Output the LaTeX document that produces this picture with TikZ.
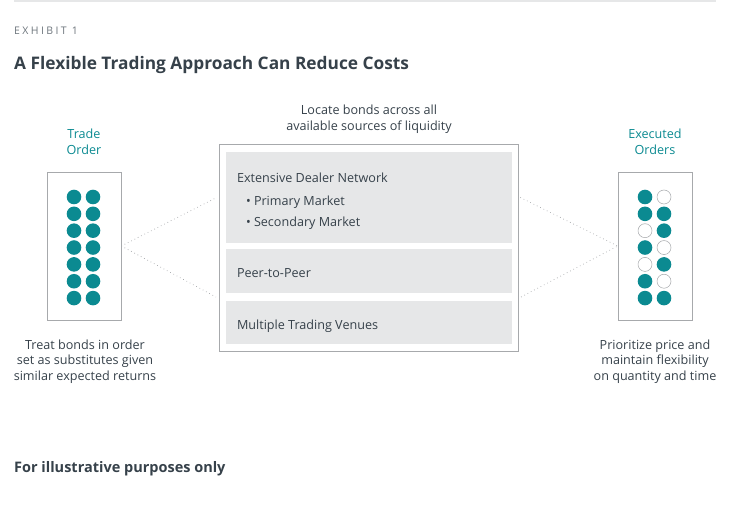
\documentclass[tikz,border=0pt]{standalone}
\usepackage{fontspec}
\setmainfont{Open Sans}
\newfontfamily\spacedfont[LetterSpace=23]{Open Sans}
\usetikzlibrary{positioning,calc}
\definecolor{exteal}{HTML}{0B8A91}
\definecolor{exink}{HTML}{36414A}
\definecolor{exgrey}{HTML}{6E767D}
\definecolor{expanel}{HTML}{E6E7E8}
\definecolor{exline}{HTML}{A7A9AC}

\begin{document}
\begin{tikzpicture}[
  x=1pt,y=-1pt,
  rule/.style={draw=expanel,line width=1.2pt},
  exhibit/.style={anchor=west,inner sep=0pt,font=\fontsize{10.5}{13}\spacedfont\color{exgrey}},
  headline/.style={anchor=west,inner sep=0pt,font=\fontsize{17.3}{20}\bfseries\color{exink}},
  note/.style={align=center,inner sep=0pt,font=\fontsize{12.6}{15.5}\selectfont\color{exink}},
  tlbl/.style={align=center,inner sep=0pt,font=\fontsize{12.6}{15.5}\selectfont\color{exteal}},
  orderbox/.style={draw=exline,line width=0.6pt,minimum width=74pt,minimum height=148pt},
  srcbox/.style={draw=exline,line width=0.6pt,minimum width=299pt,minimum height=207pt},
  panel/.style={fill=expanel,minimum width=286pt},
  ptext/.style={anchor=west,align=left,inner sep=0pt,font=\fontsize{12.6}{15.5}\selectfont\color{exink}},
  bond/.style={circle,fill=exteal,minimum size=14.6pt,inner sep=0pt},
  nobond/.style={circle,draw=exline,line width=0.5pt,fill=white,minimum size=14pt,inner sep=0pt},
  link/.style={draw=exline,line width=0.7pt,dash pattern=on 0.7pt off 3pt}
]
\useasboundingbox (0,0) rectangle (750,510);

% heading
\draw[rule] (14,1) -- (716,1);
\node[exhibit] (exh) at (14,31) {EXHIBIT 1};
\node[headline] (ttl) at (14,65) {A Flexible Trading Approach Can Reduce Costs};

% trade order
\node[tlbl] (tradelbl) at (84,142) {Trade\\Order};
\node[orderbox] (trade) at (84,246) {};
\foreach \r in {0,...,6} {
  \node[bond] (ta\r) at (74,197+16.85*\r) {};
  \node[bond] (tb\r) at (93,197+16.85*\r) {};
}
\node[note] (tradenote) at (85,361.5) {Treat bonds in order\\set as substitutes given\\similar expected returns};

% sources of liquidity
\node[note] (srclbl) at (369,119) {Locate bonds across all\\available sources of liquidity};
\node[srcbox] (src) at (368.5,247.5) {};
\node[panel,minimum height=91pt] (dealer) at (369,197.5) {};
\node[panel,minimum height=44pt] (peer) at (369,271) {};
\node[panel,minimum height=43pt] (venues) at (369,322.5) {};
\node[ptext] (dealertxt) at ([xshift=11pt,yshift=-3.5pt]dealer.west)
  {Extensive Dealer Network\\[7pt]
   \hspace*{9pt}\textbullet\ Primary Market\\[5.5pt]
   \hspace*{9pt}\textbullet\ Secondary Market};
\node[ptext] (peertxt) at ([xshift=11pt,yshift=-2pt]peer.west) {Peer-to-Peer};
\node[ptext] (venuestxt) at ([xshift=11pt,yshift=-4pt]venues.west) {Multiple Trading Venues};

% executed orders
\node[tlbl] (execlbl) at (655,142) {Executed\\Orders};
\node[orderbox] (exec) at (655,246) {};
\foreach \r/\a/\b in {0/bond/nobond,1/bond/bond,2/nobond/bond,3/bond/nobond,
                      4/nobond/bond,5/bond/nobond,6/bond/bond} {
  \node[\a] (ea\r) at (645,197+16.85*\r) {};
  \node[\b] (eb\r) at (664,197+16.85*\r) {};
}
\node[note] (execnote) at (655,361.5) {Prioritize price and\\maintain flexibility\\on quantity and time};

% dotted links
\coordinate (inA) at ([xshift=-2pt]src.west |- dealer.center);
\coordinate (inB) at (216,297);
\coordinate (outA) at ([xshift=2pt]src.east |- dealer.center);
\coordinate (outB) at (521,297);
\draw[link] (trade.east) -- (inA);
\draw[link] (trade.east) -- (inB);
\draw[link] (outA) -- (exec.west);
\draw[link] (outB) -- (exec.west);

\node[anchor=west,inner sep=0pt,font=\fontsize{14.5}{17}\bfseries\color{exink}] (illus) at (14,469)
  {For illustrative purposes only};
\end{tikzpicture}
\end{document}
